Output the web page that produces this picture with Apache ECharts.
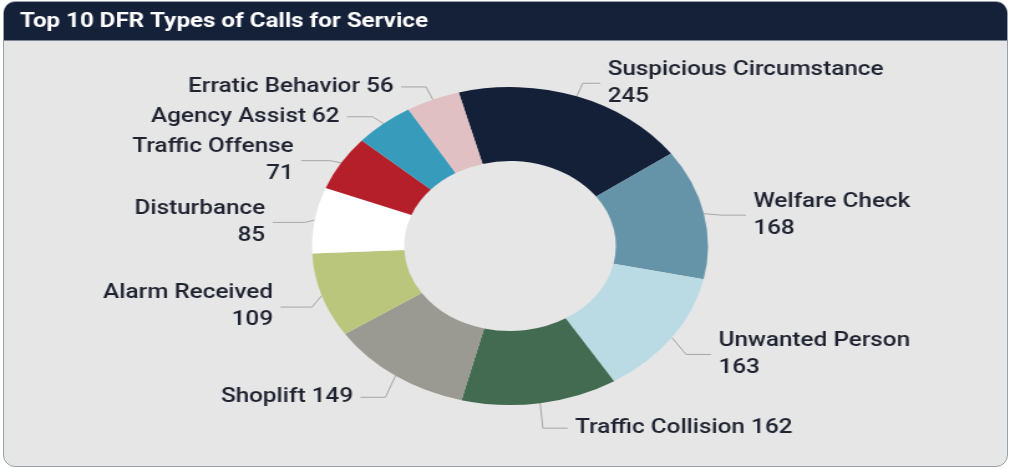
<!DOCTYPE html>
<html>
<head>
<meta charset="utf-8">
<script src="https://cdn.jsdelivr.net/npm/echarts@6/dist/echarts.min.js"></script>
<style>
  html, body { margin: 0; padding: 0; width: 1010px; height: 469px; background: #ffffff; overflow: hidden; }
  #panel { position: absolute; left: 3px; top: 1px; width: 1003px; height: 464px; border: 1.5px solid #9aa1ab; border-radius: 12px; background: #e6e6e6; overflow: hidden; }
  #header { position: absolute; left: 0; top: 0; right: 0; height: 38px; background: #152039; border-bottom: 1px solid #7d8594; }
  #chart { position: absolute; left: 0; top: 0; width: 811px; height: 469px; transform: scaleX(1.24538); transform-origin: 0 0; }
</style>
</head>
<body>
<div id="panel"><div id="header"></div></div>
<div id="chart"></div>
<script>
const titleText = 'Top 10 DFR Types of Calls for Service';
const categories = ['Suspicious Circumstance', 'Welfare Check', 'Unwanted Person', 'Traffic Collision', 'Shoplift', 'Alarm Received', 'Disturbance', 'Traffic Offense', 'Agency Assist', 'Erratic Behavior'];
const values = [245, 168, 163, 162, 149, 109, 85, 71, 62, 56];
const colors = ['#141f38', '#6594a8', '#badbe3', '#436b52', '#9a9a92', '#bac67c', '#ffffff', '#b51f2a', '#379bbb', '#e0c0c3'];

const twoLine = new Set(['Suspicious Circumstance', 'Welfare Check', 'Unwanted Person', 'Alarm Received', 'Disturbance', 'Traffic Offense']);

const CX = 409.5, CY = 246, R_OUT = 159;

const chart = echarts.init(document.getElementById('chart'), null, { renderer: 'canvas' });
chart.setOption({
  animation: false,
  title: {
    text: titleText,
    left: 11, top: 8,
    textStyle: { color: '#ffffff', fontFamily: 'Roboto', fontWeight: 'bold', fontSize: 19.4 }
  },
  series: [{
    type: 'pie',
    center: [CX, CY],
    radius: [85, R_OUT],
    startAngle: 105,
    clockwise: true,
    avoidLabelOverlap: true,
    data: categories.map((c, i) => ({ name: c, value: values[i], itemStyle: { color: colors[i] } })),
    label: {
      show: true,
      position: 'outside',
      formatter: p => p.name + (twoLine.has(p.name) ? '\n' : ' ') + p.value,
      color: '#1f2230',
      fontFamily: 'Roboto',
      fontWeight: 500,
      fontSize: 19.5,
      lineHeight: 27,
      distanceToLabelLine: 6
    },
    labelLine: {
      show: true,
      length: 14,
      length2: 20,
      lineStyle: { color: '#a6a6a6', width: 1 }
    },
    labelLayout: function (params) {
      const pts = params.labelLinePoints;
      if (!pts || pts.length < 3) return {};
      // lower labels sit a little further out, left-middle labels a little further left,
      // upper-right label a little closer in
      const cosv = (pts[0][1] - CY) / R_OUT;
      const sinv = (pts[0][0] - CX) / R_OUT;
      const d = 5.5 + 5.7 * cosv;
      let dx = 0;
      if (sinv < -0.6) dx = -6 * Math.min(1, (-sinv - 0.6) / 0.4);
      else if (sinv > 0 && cosv < -0.5) dx = -6;
      return {
        dx: dx,
        dy: d,
        labelLinePoints: [
          [pts[0][0], pts[0][1]],
          [pts[1][0], pts[1][1] + d],
          [pts[2][0] + dx, pts[2][1] + d]
        ]
      };
    },
    emphasis: { disabled: true }
  }]
});
</script>
</body>
</html>
